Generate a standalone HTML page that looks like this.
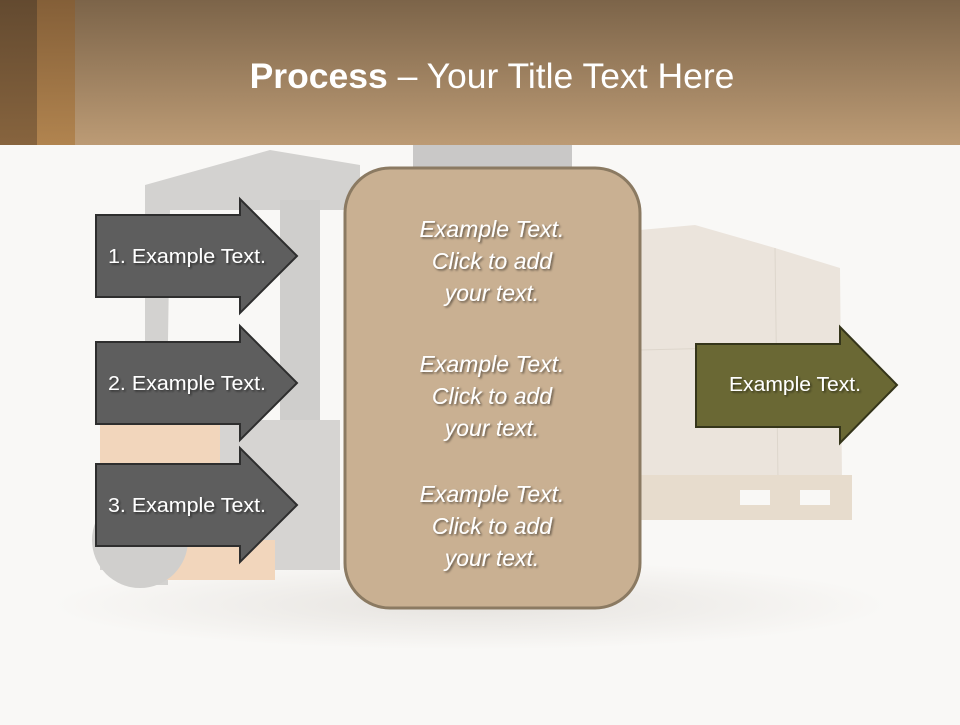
<!DOCTYPE html>
<html><head><meta charset="utf-8"><style>
body{margin:0;width:960px;height:720px;overflow:hidden;background:#f9f8f6;font-family:"Liberation Sans",sans-serif}
</style></head><body>
<svg width="960" height="720" viewBox="0 0 960 720" xmlns="http://www.w3.org/2000/svg">
<defs>
<linearGradient id="hd" x1="0" y1="0" x2="0" y2="1"><stop offset="0" stop-color="#7c6449"/><stop offset="1" stop-color="#bc9b75"/></linearGradient>
<linearGradient id="s1" x1="0" y1="0" x2="0" y2="1"><stop offset="0" stop-color="#634a30"/><stop offset="1" stop-color="#87643e"/></linearGradient>
<linearGradient id="s2" x1="0" y1="0" x2="0" y2="1"><stop offset="0" stop-color="#845f38"/><stop offset="1" stop-color="#b1844f"/></linearGradient>
<radialGradient id="sh" cx="0.5" cy="0.5" r="0.5"><stop offset="0" stop-color="#e6e3df"/><stop offset="1" stop-color="#f9f8f6"/></radialGradient>
<filter id="ts"><feDropShadow dx="1.5" dy="1.5" stdDeviation="1" flood-color="#000" flood-opacity="0.5"/></filter>
</defs>
<rect width="960" height="720" fill="#f9f8f6"/>
<ellipse cx="470" cy="605" rx="420" ry="45" fill="url(#sh)"/>
<rect x="413" y="145" width="159" height="25" fill="#c9c8c7"/>
<polygon points="145,185 270,150 360,165 360,210 170,210 168,340 145,340" fill="#d3d2d0"/>
<rect x="145" y="185" width="23" height="400" fill="#d3d2d0"/>
<rect x="280" y="200" width="40" height="250" fill="#cfcecc"/>
<rect x="100" y="420" width="240" height="150" fill="#d6d4d2"/>
<rect x="100" y="425" width="120" height="60" fill="#f2d6bc"/>
<rect x="165" y="540" width="110" height="40" fill="#f2d6bc"/>
<circle cx="140" cy="540" r="48" fill="#d0cfcd"/>
<polygon points="640,230 695,225 775,248 840,268 842,480 640,480" fill="#ebe4dc"/>
<line x1="775" y1="248" x2="778" y2="480" stroke="#ddd6cc"/>
<line x1="640" y1="350" x2="842" y2="345" stroke="#ddd6cc"/>
<rect x="640" y="475" width="212" height="45" fill="#e7dccd"/>
<rect x="740" y="490" width="30" height="15" fill="#f9f8f6"/><rect x="800" y="490" width="30" height="15" fill="#f9f8f6"/>
<rect width="960" height="145" fill="url(#hd)"/>
<rect width="37" height="145" fill="url(#s1)"/>
<rect x="37" width="38" height="145" fill="url(#s2)"/>
<text x="492" y="88" text-anchor="middle" font-size="35.5" fill="#fff"><tspan font-weight="bold">Process</tspan> – Your Title Text Here</text>
<g fill="#5e5e5e" stroke="#2e2e2e" stroke-width="2">
<polygon points="96,215 240,215 240,199 297,256 240,313 240,297 96,297"/>
<polygon points="96,342 240,342 240,326 297,383 240,440 240,424 96,424"/>
<polygon points="96,464 240,464 240,448 297,505 240,562 240,546 96,546"/>
</g>
<g fill="#fff" font-size="20" text-anchor="middle" filter="url(#ts)" textLength="158">
<text x="187" y="263" textLength="158" lengthAdjust="spacingAndGlyphs">1. Example Text.</text>
<text x="187" y="390" textLength="158" lengthAdjust="spacingAndGlyphs">2. Example Text.</text>
<text x="187" y="512" textLength="158" lengthAdjust="spacingAndGlyphs">3. Example Text.</text>
</g>
<rect x="345" y="168" width="295" height="440" rx="45" fill="#c9b092" stroke="#8b7a62" stroke-width="3"/>
<g fill="#fff" font-size="23" font-style="italic" text-anchor="middle" filter="url(#ts)">
<text x="492" y="237">Example Text.</text><text x="492" y="269">Click  to add</text><text x="492" y="301">your text.</text>
<text x="492" y="372">Example Text.</text><text x="492" y="404">Click  to add</text><text x="492" y="436">your text.</text>
<text x="492" y="502">Example Text.</text><text x="492" y="534">Click  to add</text><text x="492" y="566">your text.</text>
</g>
<polygon points="696,344 840,344 840,327 897,385 840,443 840,427 696,427" fill="#6a6834" stroke="#35351a" stroke-width="2"/>
<text x="795" y="391" fill="#fff" font-size="20" text-anchor="middle" filter="url(#ts)" textLength="132" lengthAdjust="spacingAndGlyphs">Example Text.</text>
</svg>
</body></html>
